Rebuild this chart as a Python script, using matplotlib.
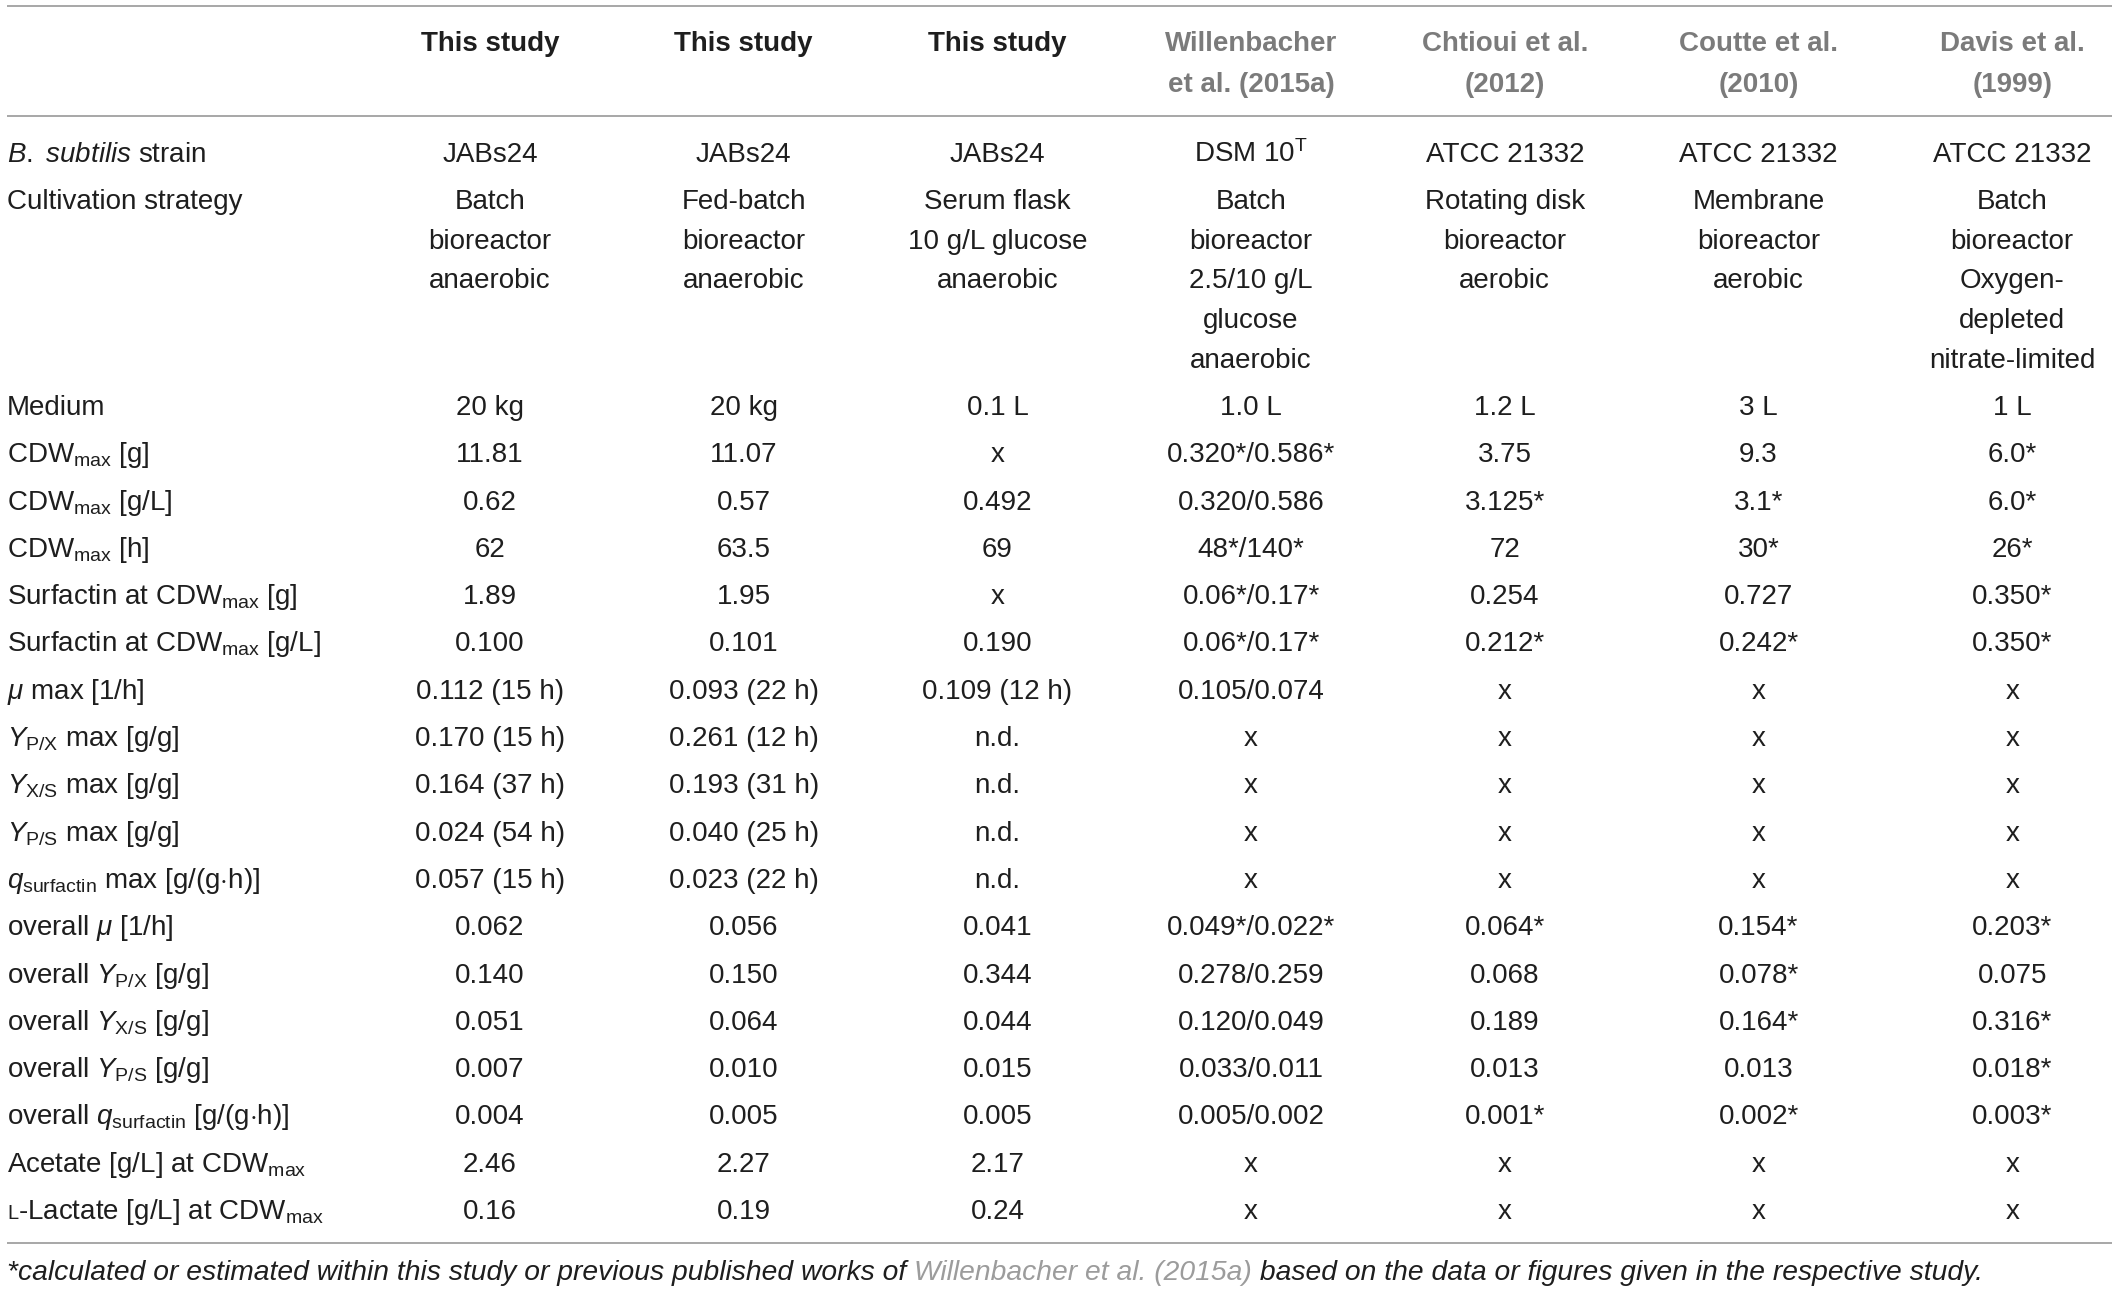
import matplotlib
matplotlib.use('Agg')
import matplotlib.pyplot as plt

plt.rcParams['font.family'] = ['Liberation Sans', 'DejaVu Sans']
plt.rcParams['mathtext.fontset'] = 'custom'
plt.rcParams['mathtext.rm'] = 'Liberation Sans'
plt.rcParams['mathtext.it'] = 'Liberation Sans:italic'
plt.rcParams['mathtext.bf'] = 'Liberation Sans:bold'
plt.rcParams['mathtext.sf'] = 'Liberation Sans'

# ---- table content ----
col_heads = ['This study', 'This study', 'This study', 'Willenbacher\net al. (2015a)',
             'Chtioui et al.\n(2012)', 'Coutte et al.\n(2010)', 'Davis et al.\n(1999)']
head_is_ref = [False, False, False, True, True, True, True]

row_labels = [
    r'$\mathit{B.}$ $\mathit{subtilis}$ strain',
    'Cultivation strategy',
    'Medium',
    r'CDW$_{\mathrm{max}}$ [g]',
    r'CDW$_{\mathrm{max}}$ [g/L]',
    r'CDW$_{\mathrm{max}}$ [h]',
    r'Surfactin at CDW$_{\mathrm{max}}$ [g]',
    r'Surfactin at CDW$_{\mathrm{max}}$ [g/L]',
    r'$\mu$ max [1/h]',
    r'$Y_{\mathrm{P/X}}$ max [g/g]',
    r'$Y_{\mathrm{X/S}}$ max [g/g]',
    r'$Y_{\mathrm{P/S}}$ max [g/g]',
    r'$q_{\mathrm{surfactin}}$ max [g/(g$\cdot$h)]',
    r'overall $\mu$ [1/h]',
    r'overall $Y_{\mathrm{P/X}}$ [g/g]',
    r'overall $Y_{\mathrm{X/S}}$ [g/g]',
    r'overall $Y_{\mathrm{P/S}}$ [g/g]',
    r'overall $q_{\mathrm{surfactin}}$ [g/(g$\cdot$h)]',
    r'Acetate [g/L] at CDW$_{\mathrm{max}}$',
    r'-Lactate [g/L] at CDW$_{\mathrm{max}}$',   # small-cap L drawn separately
]

strain = ['JABs24', 'JABs24', 'JABs24', r'DSM 10$^{\mathrm{T}}$', 'ATCC 21332', 'ATCC 21332', 'ATCC 21332']
cultivation = ['Batch\nbioreactor\nanaerobic', 'Fed-batch\nbioreactor\nanaerobic',
               'Serum flask\n10 g/L glucose\nanaerobic',
               'Batch\nbioreactor\n2.5/10 g/L\nglucose\nanaerobic',
               'Rotating disk\nbioreactor\naerobic', 'Membrane\nbioreactor\naerobic',
               'Batch\nbioreactor\nOxygen-\ndepleted\nnitrate-limited']
medium = ['20 kg', '20 kg', '0.1 L', '1.0 L', '1.2 L', '3 L', '1 L']
cdw_g = ['11.81', '11.07', 'x', '0.320*/0.586*', '3.75', '9.3', '6.0*']
cdw_gl = ['0.62', '0.57', '0.492', '0.320/0.586', '3.125*', '3.1*', '6.0*']
cdw_h = ['62', '63.5', '69', '48*/140*', '72', '30*', '26*']
surf_g = ['1.89', '1.95', 'x', '0.06*/0.17*', '0.254', '0.727', '0.350*']
surf_gl = ['0.100', '0.101', '0.190', '0.06*/0.17*', '0.212*', '0.242*', '0.350*']
mu_max = ['0.112 (15 h)', '0.093 (22 h)', '0.109 (12 h)', '0.105/0.074', 'x', 'x', 'x']
ypx_max = ['0.170 (15 h)', '0.261 (12 h)', 'n.d.', 'x', 'x', 'x', 'x']
yxs_max = ['0.164 (37 h)', '0.193 (31 h)', 'n.d.', 'x', 'x', 'x', 'x']
yps_max = ['0.024 (54 h)', '0.040 (25 h)', 'n.d.', 'x', 'x', 'x', 'x']
q_max = ['0.057 (15 h)', '0.023 (22 h)', 'n.d.', 'x', 'x', 'x', 'x']
mu_all = ['0.062', '0.056', '0.041', '0.049*/0.022*', '0.064*', '0.154*', '0.203*']
ypx_all = ['0.140', '0.150', '0.344', '0.278/0.259', '0.068', '0.078*', '0.075']
yxs_all = ['0.051', '0.064', '0.044', '0.120/0.049', '0.189', '0.164*', '0.316*']
yps_all = ['0.007', '0.010', '0.015', '0.033/0.011', '0.013', '0.013', '0.018*']
q_all = ['0.004', '0.005', '0.005', '0.005/0.002', '0.001*', '0.002*', '0.003*']
acetate = ['2.46', '2.27', '2.17', 'x', 'x', 'x', 'x']
lactate = ['0.16', '0.19', '0.24', 'x', 'x', 'x', 'x']

rows = [strain, cultivation, medium, cdw_g, cdw_gl, cdw_h, surf_g, surf_gl,
        mu_max, ypx_max, yxs_max, yps_max, q_max,
        mu_all, ypx_all, yxs_all, yps_all, q_all, acetate, lactate]

footnote = [('*calculated or estimated within this study or previous published works of ', 'black'),
            ('Willenbacher et al. (2015a)', 'ref'),
            (' based on the data or figures given in the respective study.', 'black')]

# ---- layout ----
W, H = 2118, 1293
TXT = '#1e1e1e'
REF = '#7b7b7b'
LINK = '#9c9c9c'
RULE = '#a0a0a0'
FS = 20

label_x = 7
col_x0, col_step = 490, 253.7
head_y = [41, 82]
first_row = 152
row_gap = 47.3
line_gap = 39.6
base_off = 10  # baseline below visual centre

fig = plt.figure(figsize=(W / 100, H / 100), dpi=100)
ax = fig.add_axes([0, 0, 1, 1])
ax.set_xlim(0, W)
ax.set_ylim(H, 0)
ax.axis('off')
renderer = fig.canvas.get_renderer()

# rules
for yl in [6, 116, 1243]:
    ax.plot([7, 2112], [yl, yl], color=RULE, lw=1.3, solid_capstyle='butt')

# header
for j, head in enumerate(col_heads):
    x = col_x0 + j * col_step
    for k, part in enumerate(head.split('\n')):
        ax.text(x, head_y[k] + base_off, part, ha='center', va='baseline',
                fontsize=FS, fontweight='bold', color=REF if head_is_ref[j] else TXT)

# body
y = first_row
for label, vals in zip(row_labels, rows):
    if label.startswith('-Lactate'):
        t = ax.text(label_x, y + base_off, 'L', ha='left', va='baseline', fontsize=FS * 0.72, color=TXT)
        bb = t.get_window_extent(renderer)
        xl = ax.transData.inverted().transform((bb.x1, bb.y0))[0]
        ax.text(xl, y + base_off, label, ha='left', va='baseline', fontsize=FS, color=TXT)
    else:
        ax.text(label_x, y + base_off, label, ha='left', va='baseline', fontsize=FS, color=TXT)
    nlines = 1
    for j, v in enumerate(vals):
        parts = v.split('\n')
        nlines = max(nlines, len(parts))
        for k, part in enumerate(parts):
            ax.text(col_x0 + j * col_step, y + k * line_gap + base_off, part,
                    ha='center', va='baseline', fontsize=FS, color=TXT)
    y += (nlines - 1) * line_gap + row_gap

# footnote
x = label_x
for txt, kind in footnote:
    t = ax.text(x, 1271 + 9, txt, ha='left', va='baseline', fontsize=20.3, style='italic',
                color=LINK if kind == 'ref' else TXT)
    bb = t.get_window_extent(renderer)
    x = ax.transData.inverted().transform((bb.x1, bb.y0))[0]

fig.savefig('out.png', dpi=100, facecolor='white')
